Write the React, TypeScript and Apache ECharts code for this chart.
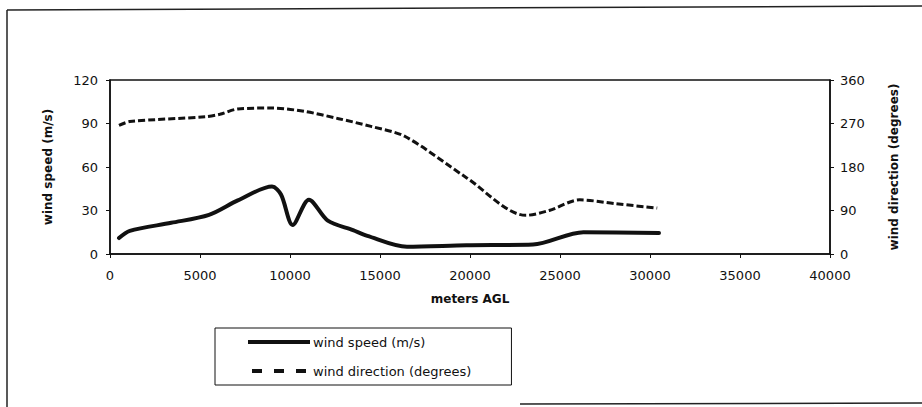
import React, { useEffect, useRef } from "react";
import * as echarts from "echarts";

const speedAlt = [500, 1100, 3400, 5500, 7100, 9000, 9500, 10150, 11050, 12100, 13500, 14300, 16500, 19800, 23500, 26300, 30500];
const speedVal = [11, 16, 21.5, 27, 37, 46.5, 41, 20, 37.5, 23, 16.5, 12.5, 5, 6, 6.5, 15, 14.5];

const dirAlt = [500, 1100, 5300, 6100, 7100, 9000, 10800, 12700, 14500, 16400, 19800, 23100, 24400, 26100, 28100, 30400];
const dirVal = [266, 274, 284, 289, 300, 302, 295, 280, 264, 243, 158, 80, 90, 112, 104, 95];

const leftTicks = [0, 30, 60, 90, 120];
const rightTicks = [0, 90, 180, 270, 360];
const xTicks = [0, 5000, 10000, 15000, 20000, 25000, 30000, 35000, 40000];

const FONT = "'DejaVu Sans', Arial, sans-serif";
const INK = "#111";

export default function App() {
  const ref = useRef<HTMLDivElement>(null);
  useEffect(() => {
    if (!ref.current) return;
    const chart = echarts.init(ref.current, undefined, { renderer: "svg" });
    const speedData = speedAlt.map((a, i) => [a, speedVal[i]]);
    const dirData = dirAlt.map((a, i) => [a, dirVal[i]]);
    chart.setOption({
      animation: false,
      backgroundColor: "#fff",
      textStyle: { fontFamily: FONT, color: INK },
      grid: {
        left: 110,
        right: 92,
        top: 80,
        height: 174,
        show: true,
        borderColor: INK,
        borderWidth: 1.5,
      },
      xAxis: {
        type: "value",
        min: xTicks[0],
        max: xTicks[xTicks.length - 1],
        interval: 5000,
        name: "meters AGL",
        nameLocation: "middle",
        nameGap: 39,
        nameTextStyle: { fontFamily: FONT, fontSize: 12, fontWeight: "bold", color: INK },
        axisLine: { show: true, lineStyle: { color: INK, width: 1.5 } },
        axisTick: { show: true, inside: false, length: 4, lineStyle: { color: INK } },
        axisLabel: { fontFamily: FONT, fontSize: 13, color: INK, margin: 15, formatter: (v: number) => String(v) },
        splitLine: { show: false },
      },
      yAxis: [
        {
          type: "value",
          position: "left",
          min: leftTicks[0],
          max: leftTicks[leftTicks.length - 1],
          interval: 30,
          name: "wind speed (m/s)",
          nameLocation: "middle",
          nameRotate: 90,
          nameGap: 56,
          nameTextStyle: { fontFamily: FONT, fontSize: 12, fontWeight: "bold", color: INK },
          axisLine: { show: true, lineStyle: { color: INK, width: 1.5 } },
          axisTick: { show: true, length: 4, lineStyle: { color: INK } },
          axisLabel: { fontFamily: FONT, fontSize: 13, color: INK, margin: 12 },
          splitLine: { show: false },
        },
        {
          type: "value",
          position: "right",
          min: rightTicks[0],
          max: rightTicks[rightTicks.length - 1],
          interval: 90,
          name: "wind direction (degrees)",
          nameLocation: "middle",
          nameRotate: 90,
          nameGap: 58,
          nameTextStyle: { fontFamily: FONT, fontSize: 12, fontWeight: "bold", color: INK },
          axisLine: { show: true, lineStyle: { color: INK, width: 1.5 } },
          axisTick: { show: true, length: 4, lineStyle: { color: INK } },
          axisLabel: { fontFamily: FONT, fontSize: 13, color: INK, margin: 10 },
          splitLine: { show: false },
        },
      ],
      legend: {
        orient: "vertical",
        left: 215,
        top: 328,
        padding: [6, 40, 6, 33],
        itemWidth: 62,
        itemHeight: 4,
        itemGap: 13,
        borderColor: INK,
        borderWidth: 1,
        textStyle: { fontFamily: FONT, fontSize: 13, color: INK, padding: [0, 0, 0, -2], lineHeight: 16 },
        data: [
          { name: "wind speed (m/s)", icon: "rect", itemStyle: { color: INK, borderWidth: 0 } },
          {
            name: "wind direction (degrees)",
            icon: "path://M0,0h10v4h-10zM22,0h10v4h-10zM44,0h10v4h-10z",
            itemStyle: { color: INK, borderWidth: 0 },
          },
        ],
      },
      series: [
        {
          name: "wind speed (m/s)",
          type: "line",
          yAxisIndex: 0,
          data: speedData,
          smooth: 0.3,
          symbol: "none",
          lineStyle: { color: INK, width: 4, cap: "round", join: "round" },
          itemStyle: { color: INK },
        },
        {
          name: "wind direction (degrees)",
          type: "line",
          yAxisIndex: 1,
          data: dirData,
          smooth: 0.3,
          symbol: "none",
          lineStyle: { color: INK, width: 3, type: [7, 3] },
          itemStyle: { color: INK },
        },
      ],
      graphic: [
        { type: "line", shape: { x1: 7, y1: 10, x2: 922, y2: 6 }, style: { stroke: "#222", lineWidth: 1.5 } },
        { type: "line", shape: { x1: 7, y1: 10, x2: 7, y2: 407 }, style: { stroke: "#222", lineWidth: 1.5 } },
        { type: "line", shape: { x1: 520, y1: 404, x2: 922, y2: 403 }, style: { stroke: "#222", lineWidth: 1.5 } },
      ],
    });
    return () => chart.dispose();
  }, []);
  return (
    <div
      ref={ref}
      style={{ position: "fixed", left: 0, top: 0, width: 922, height: 407 }}
    />
  );
}
